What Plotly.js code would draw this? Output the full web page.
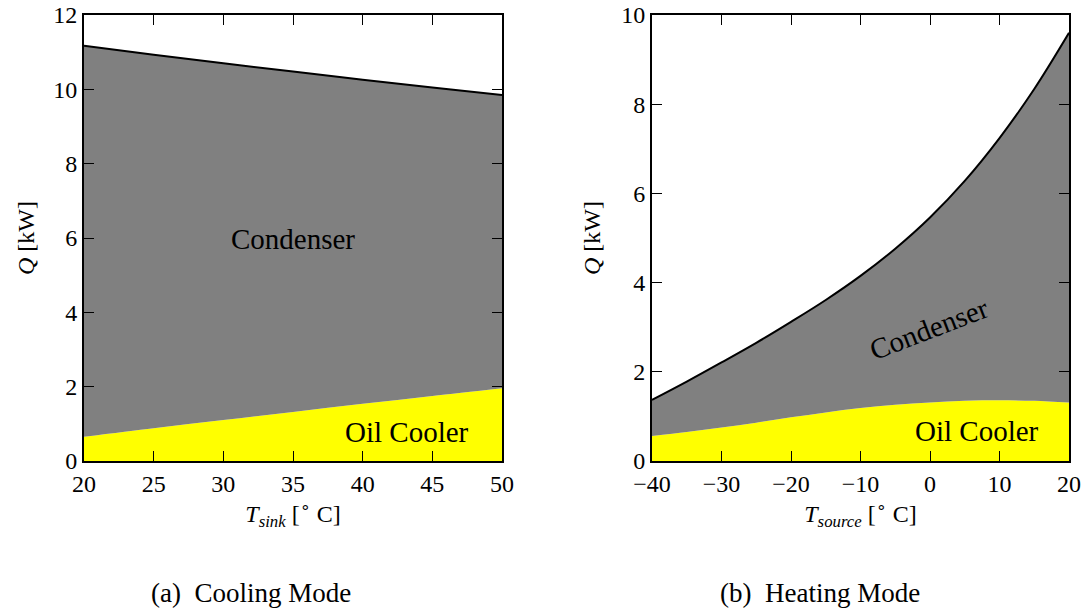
<!DOCTYPE html>
<html>
<head>
<meta charset="utf-8">
<script src="https://cdn.plot.ly/plotly-3.0.1.min.js"></script>
<style>
html,body{margin:0;padding:0;background:#fff;}
#chart{width:1089px;height:611px;}
</style>
</head>
<body>
<div id="chart"></div>
<script>
// Cooling mode (left)
const tSink = [20, 25, 30, 35, 40, 45, 50];
const coolTotal = [11.17, 10.93, 10.70, 10.48, 10.26, 10.05, 9.85];
const coolOil = [0.65, 0.88, 1.10, 1.32, 1.54, 1.75, 1.96];

// Heating mode (right)
const tSource = [-40, -35, -30, -25, -20, -15, -10, -5, 0, 5, 10, 15, 20];
const heatTotal = [1.37, 1.78, 2.21, 2.65, 3.12, 3.61, 4.15, 4.76, 5.46, 6.28, 7.24, 8.34, 9.60];
const heatOil = [0.56, 0.65, 0.75, 0.86, 0.98, 1.09, 1.19, 1.26, 1.31, 1.35, 1.36, 1.35, 1.31];

const leftXTicks = [20, 25, 30, 35, 40, 45, 50];
const leftYTicks = [0, 2, 4, 6, 8, 10, 12];
const rightXTicks = [-40, -30, -20, -10, 0, 10, 20];
const rightYTicks = [0, 2, 4, 6, 8, 10];

const captions = ['(a)  Cooling Mode', '(b)  Heating Mode'];

const GREY = '#808080', YELLOW = '#ffff00';
const SERIF = 'Liberation Serif';

const traces = [
  {x: tSink, y: coolOil, xaxis: 'x', yaxis: 'y', type: 'scatter', mode: 'lines',
   fill: 'tozeroy', fillcolor: YELLOW, line: {color: YELLOW, width: 0, shape: 'spline'}, hoverinfo: 'skip'},
  {x: tSink, y: coolTotal, xaxis: 'x', yaxis: 'y', type: 'scatter', mode: 'lines',
   fill: 'tonexty', fillcolor: GREY, line: {color: '#000', width: 2, shape: 'spline'}, hoverinfo: 'skip'},
  {x: tSource, y: heatOil, xaxis: 'x2', yaxis: 'y2', type: 'scatter', mode: 'lines',
   fill: 'tozeroy', fillcolor: YELLOW, line: {color: YELLOW, width: 0, shape: 'spline'}, hoverinfo: 'skip'},
  {x: tSource, y: heatTotal, xaxis: 'x2', yaxis: 'y2', type: 'scatter', mode: 'lines',
   fill: 'tonexty', fillcolor: GREY, line: {color: '#000', width: 2, shape: 'spline'}, hoverinfo: 'skip'}
];

function axis(extra) {
  return Object.assign({
    showgrid: false, zeroline: false, showline: true, linecolor: '#000', linewidth: 2,
    mirror: 'ticks', ticks: 'inside', ticklen: 10, tickwidth: 1, tickcolor: '#000',
    tickfont: {family: SERIF, size: 24, color: '#000'}, tickmode: 'array', layer: 'above traces'
  }, extra);
}

const yDom = [150 / 611, 596 / 611];
const titleFont = {family: SERIF, size: 24, color: '#000'};
const layout = {
  width: 1089, height: 611,
  margin: {l: 0, r: 0, t: 0, b: 0},
  paper_bgcolor: '#fff', plot_bgcolor: '#fff',
  showlegend: false,
  font: {family: SERIF, color: '#000'},
  xaxis: axis({domain: [84 / 1089, 502 / 1089], range: [20, 50], tickvals: leftXTicks, anchor: 'y',
    title: {text: '<i>T<sub>sink</sub></i> [<sup>∘</sup> C]', font: titleFont, standoff: 4}}),
  yaxis: axis({domain: yDom, range: [0, 12], tickvals: leftYTicks, anchor: 'x',
    title: {text: '<i>Q</i> [kW]', font: titleFont, standoff: 12}}),
  xaxis2: axis({domain: [652 / 1089, 1069 / 1089], range: [-40, 20], tickvals: rightXTicks, anchor: 'y2',
    title: {text: '<i>T<sub>source</sub></i> [<sup>∘</sup> C]', font: titleFont, standoff: 4}}),
  yaxis2: axis({domain: yDom, range: [0, 10], tickvals: rightYTicks, anchor: 'x2',
    title: {text: '<i>Q</i> [kW]', font: titleFont, standoff: 14}}),
  annotations: [
    {xref: 'x', yref: 'y', x: 35, y: 5.97, text: 'Condenser', showarrow: false,
     font: {family: SERIF, size: 29, color: '#000'}},
    {xref: 'x', yref: 'y', x: 43.2, y: 0.78, text: 'Oil Cooler', showarrow: false,
     font: {family: SERIF, size: 29, color: '#000'}},
    {xref: 'x2', yref: 'y2', x: -0.2, y: 2.95, text: 'Condenser', showarrow: false, textangle: -21,
     font: {family: SERIF, size: 29, color: '#000'}},
    {xref: 'x2', yref: 'y2', x: 6.8, y: 0.68, text: 'Oil Cooler', showarrow: false,
     font: {family: SERIF, size: 29, color: '#000'}},
    {xref: 'paper', yref: 'paper', x: 251 / 1089, y: 1 - 593 / 611, xanchor: 'center', yanchor: 'middle',
     text: captions[0], showarrow: false, font: {family: SERIF, size: 27, color: '#000'}},
    {xref: 'paper', yref: 'paper', x: 820 / 1089, y: 1 - 593 / 611, xanchor: 'center', yanchor: 'middle',
     text: captions[1], showarrow: false, font: {family: SERIF, size: 27, color: '#000'}}
  ]
};

Plotly.newPlot('chart', traces, layout, {staticPlot: true, displayModeBar: false});
</script>
</body>
</html>
